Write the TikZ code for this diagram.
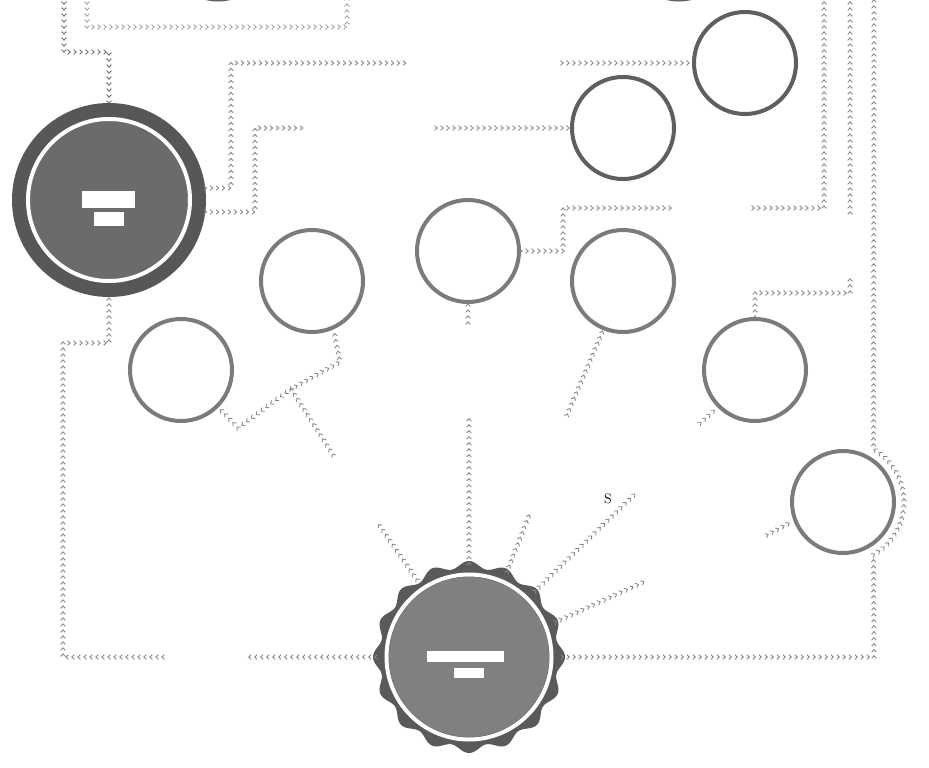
\documentclass[tikz,border=0pt]{standalone}
\usetikzlibrary{decorations.markings,calc}
\definecolor{bigdk}{HTML}{575757}
\definecolor{bigin}{HTML}{6B6B6B}
\definecolor{sealdk}{HTML}{5A5A5A}
\definecolor{sealin}{HTML}{808080}
\definecolor{ringdk}{HTML}{5F5F5F}
\definecolor{ringmd}{HTML}{7B7B7B}
\definecolor{chdk}{HTML}{6A6A6A}
\definecolor{chmd}{HTML}{858585}
\definecolor{chlt}{HTML}{A0A0A0}
\tikzset{
  chv/.style={decorate, decoration={markings,
      mark=between positions 0 and 1 step 6pt with
      {\draw[#1, line width=0.85pt, line cap=round, line join=miter] (-1.3pt,2.2pt) -- (1.2pt,0pt) -- (-1.3pt,-2.2pt);}}},
  chv/.default=chmd,
  ringnode/.style={circle, draw=#1, line width=4pt, fill=white, minimum size=102pt, inner sep=0pt},
  bignode/.style={circle, fill=bigdk, minimum size=194pt, inner sep=0pt},
  sealnode/.style={circle, minimum size=186pt, inner sep=0pt},
  bar/.style={fill=white},
}
\begin{document}
\begin{tikzpicture}[x=1pt,y=-1pt]
\useasboundingbox (0,0) rectangle (929,768);
\clip (0,0) rectangle (929,768);
\fill[white] (0,0) rectangle (929,768);

% big circle
\node[bignode] (big) at (109,200) {};
\fill[bigin] (big.center) circle[radius=79pt];
\draw[white, line width=4pt] (big.center) circle[radius=81pt];
\fill[bar] (82,191) rectangle (135,208);
\fill[bar] (94,212) rectangle (124,226);

% seal
\fill[sealdk] plot[domain=0:360, samples=361, variable=\t]
  ({469+(92.5+3.5*cos(16*\t))*cos(\t)},{657+(92.5+3.5*cos(16*\t))*sin(\t)}) -- cycle;
\node[sealnode] (seal) at (469,657) {};
\fill[sealin] (seal.center) circle[radius=80pt];
\draw[white, line width=4pt] (seal.center) circle[radius=82.5pt];
\fill[bar] (427,651) rectangle (504,662);
\fill[bar] (454,668) rectangle (484,678);

% ring circles
\node[ringnode=ringdk] (ta) at (218,-51.5) {};
\node[ringnode=ringdk] (tb) at (679,-51.5) {};
\node[ringnode=ringdk] (ca) at (745,63) {};
\node[ringnode=ringdk] (cb) at (623,128) {};
\node[ringnode=ringmd] (cc) at (468,251) {};
\node[ringnode=ringmd] (cd) at (312,281) {};
\node[ringnode=ringmd] (ce) at (623,281) {};
\node[ringnode=ringmd] (cf) at (181,370) {};
\node[ringnode=ringmd] (cg) at (755,370) {};
\node[ringnode=ringmd] (ch) at (843,502) {};

% free ends
\coordinate (a0) at (64,-3);
\coordinate (b0) at (87,-3);
\coordinate (b1) at (347,-3);
\coordinate (c1) at (410,63);
\coordinate (c2) at (562,63);
\coordinate (d1) at (307,128);
\coordinate (d2) at (436,128);
\coordinate (e1) at (673,208);
\coordinate (e2) at (753,208);
\coordinate (e3) at (824,-3);
\coordinate (f0) at (850,213);
\coordinate (f1) at (850,-3);
\coordinate (g1) at (874,-3);
\coordinate (h1) at (245,657);
\coordinate (h2) at (163,657);
\coordinate (i1) at (469,418);
\coordinate (i2) at (468,323);
\coordinate (j1) at (377,522);
\coordinate (j2) at (333,455);
\coordinate (jj) at (291,389);
\coordinate (k1) at (530,513);
\coordinate (l1) at (637,492);
\coordinate (l2) at (567,415);
\coordinate (m1) at (648,580);
\coordinate (m2) at (767,535);
\coordinate (n1) at (700,423);
\coordinate (o1) at (850,276);

% connectors
\path[chv=chdk] (a0) -- (64,52) -| (big.north);
\path[chv=chlt] (b0) -- (87,27) -- (347,27) -- (b1);
\path[chv=chmd] (big.7) -- (231,188) -- (231,63) -- (c1);
\path[chv=chmd] (c2) -- (ca.west);
\path[chv=chmd] (big.-7) -- (255,212) -- (255,128) -- (d1);
\path[chv=chmd] (d2) -- (cb.west);
\path[chv=chmd] (cc.east) -- (563,251) -- (563,208) -- (e1);
\path[chv=chmd] (e2) -- (824,208) -- (e3);
\path[chv=chmd] (f0) -- (f1);
\path[chv=chmd] (seal.east) -- (874,657) -- plot[domain=60:-60, samples=40, variable=\t]
  ({843+61*cos(\t)},{502+61*sin(\t)}) -- (g1);
\path[chv=chmd] (seal.west) -- (h1);
\path[chv=chmd] (h2) -- (63,657) -- (63,343) -| (big.south);
\path[chv=chmd] (seal.north) -- (i1);
\path[chv=chmd] (i2) -- (cc.south);
\path[chv=chmd] (seal.124) -- (j1);
\path[chv=chmd] (j2) -- (jj) -- (340,362) -- (cd.-66);
\path[chv=chmd] (jj) -- (238,428) -- (cf.-45);
\path[chv=chmd] (seal.66) -- (k1);
\path[chv=chmd] (seal.45) -- (l1);
\path[chv=chmd] (l2) -- (ce.-112);
\path[chv=chmd] (seal.22) -- (m1);
\path[chv=chmd] (m2) -- (ch.-159);
\path[chv=chmd] (n1) -- (cg.-135);
\path[chv=chmd] (cg.north) -- (755,293) -- (850,293) -- (o1);

% remaining text
\node[font=\fontsize{14}{14}\selectfont, inner sep=0pt] (s) at (608,499) {S};
\end{tikzpicture}
\end{document}
